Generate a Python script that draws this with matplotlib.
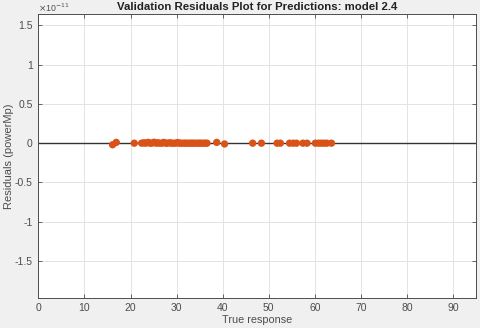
import matplotlib
matplotlib.use("Agg")
import matplotlib.pyplot as plt
from matplotlib.ticker import FuncFormatter

plt.rcParams['font.family'] = ['Liberation Sans', 'DejaVu Sans']
plt.rcParams['axes.unicode_minus'] = False

true_response = [16.1, 16.9, 20.8, 22.4, 22.9, 23.3, 23.8, 24.2, 24.6, 25.1, 25.5,
                 25.9, 26.3, 26.8, 27.2, 27.6, 28.0, 28.5, 28.9, 29.3, 29.8, 30.2,
                 30.6, 31.0, 31.5, 31.9, 32.3, 32.8, 33.2, 33.6, 34.0, 34.5, 34.9,
                 35.3, 35.8, 36.2, 36.6, 38.7, 40.4, 46.5, 48.4, 51.8, 52.5, 54.5,
                 55.3, 56.0, 57.4, 58.3, 60.1, 60.8, 61.4, 62.0, 62.6, 63.6]
residuals = [-0.02e-11, 0.01e-11, 0.0, 0.0, 0.005e-11, 0.0, 0.01e-11, 0.0, 0.0,
             0.012e-11, 0.0, 0.005e-11, 0.0, 0.0, 0.01e-11, 0.0, 0.0, 0.005e-11,
             0.0, 0.0, 0.0, 0.008e-11, 0.0, 0.0, 0.0, 0.0, 0.0, 0.0, 0.0, 0.0,
             0.0, 0.0, 0.0, 0.0, 0.0, 0.0, 0.0, 0.01e-11, -0.01e-11, 0.0, 0.0,
             0.0, 0.0, 0.0, 0.0, 0.0, 0.0, 0.0, 0.0, 0.0, 0.0, 0.0, 0.0, 0.0]

xticks = [0, 10, 20, 30, 40, 50, 60, 70, 80, 90]
yticks = [-1.5e-11, -1e-11, -0.5e-11, 0, 0.5e-11, 1e-11, 1.5e-11]
scale = 1e-11

fig = plt.figure(figsize=(4.8, 3.28), dpi=100, facecolor='#f0f0f0')
ax = fig.add_axes([0.080, 0.092, 0.912, 0.864])
ax.set_facecolor('white')

ax.axhline(0, color='#333333', lw=1.0, zorder=2)
ax.scatter(true_response, residuals, s=28, color='#D95319', edgecolors='none', zorder=3)

ax.set_xlim(0, 95)
ax.set_ylim(-1.97e-11, 1.64e-11)
ax.set_xticks(xticks)
ax.set_yticks(yticks)
ax.grid(True, color='#e3e3e3', lw=0.7)
ax.set_axisbelow(True)

ax.yaxis.set_major_formatter(FuncFormatter(lambda v, p: '%g' % round(v / scale, 3)))
ax.text(0.0, 1.002, r'$\times$10$^{-11}$', transform=ax.transAxes, fontsize=6.3,
        color='#4d4d4d', ha='left', va='bottom')

ax.tick_params(direction='in', length=3, width=0.6, colors='#4d4d4d',
               labelsize=7.5, top=True, right=True, pad=4)
for s in ax.spines.values():
    s.set_color('#4d4d4d')
    s.set_linewidth(0.7)

ax.set_title('Validation Residuals Plot for Predictions: model 2.4',
             fontsize=8.2, fontweight='bold', color='#222222', pad=3)
ax.set_xlabel('True response', fontsize=7.8, color='#4d4d4d', labelpad=1)
ax.set_ylabel('Residuals (powerMp)', fontsize=8, color='#4d4d4d', labelpad=0.5)

fig.savefig('out.png', dpi=100, facecolor=fig.get_facecolor())
